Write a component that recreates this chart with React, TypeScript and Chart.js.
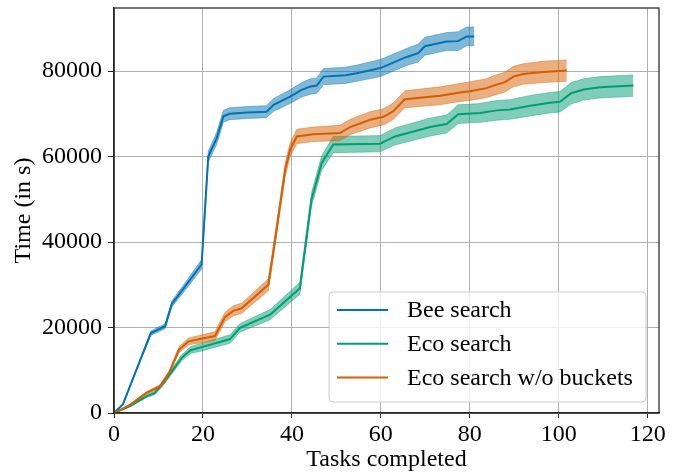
import React, { useEffect, useRef } from "react";
import { Chart, registerables } from "chart.js";

Chart.register(...registerables);

// ---- data ----
const seriesLabels = ["Bee search", "Eco search", "Eco search w/o buckets"];

const beeX = [0, 2, 5, 8.3, 11.5, 13, 16, 19.7, 21.2, 23.1, 24.6, 26, 30, 34.3, 35.9, 39.6, 42.2, 44.2, 45.6, 47.1, 52, 54.6, 59.9, 65.8, 68.4, 69.9, 74.8, 77.4, 79.3, 81];
const beeMean = [0, 2000, 10000, 18700, 20300, 25500, 29600, 34800, 60000, 64300, 69400, 70000, 70300, 70500, 72100, 74000, 75600, 76400, 76600, 78700, 79000, 79500, 80700, 83300, 84200, 85800, 86900, 87000, 88100, 88100];
const beeErr = [0, 150, 300, 500, 600, 700, 900, 1100, 1300, 1400, 1400, 1400, 1400, 1400, 1500, 1600, 1700, 1800, 1800, 1900, 1900, 1900, 2000, 2000, 2100, 2100, 2100, 2200, 2200, 2200];

const ecoX = [0, 3.6, 7.3, 9.2, 11.1, 13, 15.2, 17.2, 19.3, 26.1, 28.3, 35.1, 41.8, 42.9, 44.4, 46.7, 49.3, 59.8, 63.2, 71.1, 74.8, 77.4, 82.3, 86.1, 89, 93.6, 98, 100.3, 102.8, 105.6, 109.3, 116.8];
const ecoMean = [0, 1600, 3900, 4700, 7000, 9700, 12900, 14700, 15300, 17300, 19900, 23000, 29200, 38000, 49900, 58500, 62800, 63000, 64700, 66900, 67600, 69900, 70200, 70800, 71000, 71900, 72600, 72800, 74800, 75700, 76200, 76600];
const ecoErr = [0, 150, 300, 400, 500, 600, 700, 800, 900, 1000, 1000, 1200, 1400, 1500, 1600, 1700, 1900, 1900, 2000, 2100, 2100, 2200, 2200, 2300, 2300, 2400, 2400, 2400, 2500, 2500, 2500, 2500];

const nobX = [0, 3.6, 7.3, 10.3, 12.4, 14.6, 16.7, 19.3, 22.7, 25, 26.8, 28.7, 34.7, 35.8, 37.3, 38.5, 39.6, 41.1, 44.8, 50.8, 53.1, 57.6, 60.6, 62.8, 65.4, 73.3, 77.8, 80, 83.8, 85.3, 87.9, 89.8, 92, 96.5, 101.8];
const nobMean = [0, 1900, 4700, 6200, 9400, 14800, 16700, 17300, 18000, 22500, 23900, 24500, 30000, 37500, 48300, 56900, 61600, 64700, 65200, 65500, 66900, 68600, 69300, 70600, 73400, 74200, 75000, 75300, 76000, 76600, 77400, 78700, 79300, 79800, 80100];
const nobErr = [0, 150, 300, 400, 500, 700, 800, 900, 1000, 1100, 1200, 1200, 1400, 1500, 1500, 1600, 1600, 1700, 1700, 1800, 1800, 1900, 1900, 1900, 2000, 2100, 2100, 2200, 2200, 2300, 2300, 2400, 2400, 2500, 2500];

const xTicks = [0, 20, 40, 60, 80, 100, 120];
const yTicks = [0, 20000, 40000, 60000, 80000];

const COLORS = ["#0173b2", "#029e73", "#d55e00"];
const BAND = ["rgba(1,115,178,0.5)", "rgba(2,158,115,0.5)", "rgba(213,94,0,0.5)"];
const FONT = "'Liberation Serif', 'DejaVu Serif', serif";
const FS = 24;

function pts(xs: number[], ys: number[]) {
  return xs.map((x, i) => ({ x, y: ys[i] }));
}

const legendPlugin = {
  id: "boxLegend",
  afterDraw(chart: any) {
    const { ctx, chartArea } = chart;
    ctx.save();
    // frame (spines)
    ctx.strokeStyle = "#262626";
    ctx.lineWidth = 1.25;
    ctx.strokeRect(chartArea.left, chartArea.top, chartArea.right - chartArea.left, chartArea.bottom - chartArea.top);
    // legend box
    const right = chartArea.right - 13;
    const bottom = chartArea.bottom - 11;
    const w = 317;
    const h = 110;
    const left = right - w;
    const top = bottom - h;
    const r = 4;
    ctx.beginPath();
    ctx.moveTo(left + r, top);
    ctx.lineTo(right - r, top);
    ctx.quadraticCurveTo(right, top, right, top + r);
    ctx.lineTo(right, bottom - r);
    ctx.quadraticCurveTo(right, bottom, right - r, bottom);
    ctx.lineTo(left + r, bottom);
    ctx.quadraticCurveTo(left, bottom, left, bottom - r);
    ctx.lineTo(left, top + r);
    ctx.quadraticCurveTo(left, top, left + r, top);
    ctx.closePath();
    ctx.fillStyle = "rgba(255,255,255,0.8)";
    ctx.fill();
    ctx.strokeStyle = "#cccccc";
    ctx.lineWidth = 1;
    ctx.stroke();
    ctx.font = `${FS}px ${FONT}`;
    ctx.textBaseline = "middle";
    ctx.textAlign = "left";
    seriesLabels.forEach((label, i) => {
      const y = top + 18 + i * 33.8;
      ctx.strokeStyle = COLORS[i];
      ctx.lineWidth = 2;
      ctx.beginPath();
      ctx.moveTo(left + 8, y);
      ctx.lineTo(left + 59, y);
      ctx.stroke();
      ctx.fillStyle = "#000";
      ctx.fillText(label, left + 78, y + 1);
    });
    ctx.restore();
  },
};

export default function App() {
  const ref = useRef<HTMLCanvasElement | null>(null);
  useEffect(() => {
    document.body.style.margin = "0";
    const series = [
      { x: beeX, m: beeMean, e: beeErr },
      { x: ecoX, m: ecoMean, e: ecoErr },
      { x: nobX, m: nobMean, e: nobErr },
    ];
    const datasets: any[] = [];
    series.forEach((s, i) => {
      const baseOrder = (3 - i) * 3;
      datasets.push({
        label: seriesLabels[i] + " lower",
        data: pts(s.x, s.m.map((v, k) => v - s.e[k])),
        borderColor: BAND[i],
        borderWidth: 0.8,
        pointRadius: 0,
        fill: false,
        order: baseOrder,
      });
      datasets.push({
        label: seriesLabels[i] + " upper",
        data: pts(s.x, s.m.map((v, k) => v + s.e[k])),
        borderColor: BAND[i],
        borderWidth: 0.8,
        backgroundColor: BAND[i],
        pointRadius: 0,
        fill: "-1",
        order: baseOrder,
      });
      datasets.push({
        label: seriesLabels[i],
        data: pts(s.x, s.m),
        borderColor: COLORS[i],
        borderWidth: 2,
        pointRadius: 0,
        fill: false,
        order: baseOrder - 1,
      });
    });
    const tickFont = { family: FONT, size: FS };
    const chart = new Chart(ref.current as HTMLCanvasElement, {
      type: "line",
      data: { datasets },
      options: {
        animation: false,
        responsive: true,
        maintainAspectRatio: false,
        layout: { padding: { left: 0, right: 19, top: 8, bottom: 0 } },
        plugins: { legend: { display: false }, tooltip: { enabled: false } },
        elements: { line: { tension: 0 } },
        scales: {
          x: {
            type: "linear",
            min: 0,
            max: 122.55,
            afterBuildTicks: (s: any) => {
              s.ticks = xTicks.map((v) => ({ value: v }));
            },
            ticks: {
              font: tickFont,
              color: "#000",
              padding: 2,
              maxRotation: 0,
              autoSkip: false,
              callback: (v: any) => String(v),
            },
            grid: { color: "#b0b0b0", lineWidth: 1, tickColor: "#262626", tickLength: 5 },
            border: { color: "#262626", width: 1.25 },
            title: { display: true, text: "Tasks completed", font: tickFont, color: "#000", padding: { top: 0, bottom: 0 } },
            afterFit: (s: any) => {
              s.height = 61;
              s.paddingLeft = 0;
              s.paddingRight = 0;
            },
          },
          y: {
            type: "linear",
            min: 0,
            max: 94750,
            afterBuildTicks: (s: any) => {
              s.ticks = yTicks.map((v) => ({ value: v }));
            },
            ticks: {
              font: tickFont,
              color: "#000",
              padding: 6,
              autoSkip: false,
              callback: (v: any) => String(v),
            },
            grid: { color: "#b0b0b0", lineWidth: 1, tickColor: "#262626", tickLength: 6 },
            border: { color: "#262626", width: 1.25 },
            title: { display: true, text: "Time (in s)", font: tickFont, color: "#000", padding: { top: 9, bottom: 0 } },
            afterFit: (s: any) => {
              s.width = 114;
              s.paddingTop = 0;
              s.paddingBottom = 0;
            },
          },
        },
      },
      plugins: [legendPlugin],
    });
    return () => chart.destroy();
  }, []);
  return (
    <div style={{ position: "absolute", left: 0, top: 0, width: 678, height: 474 }}>
      <canvas ref={ref} />
    </div>
  );
}
